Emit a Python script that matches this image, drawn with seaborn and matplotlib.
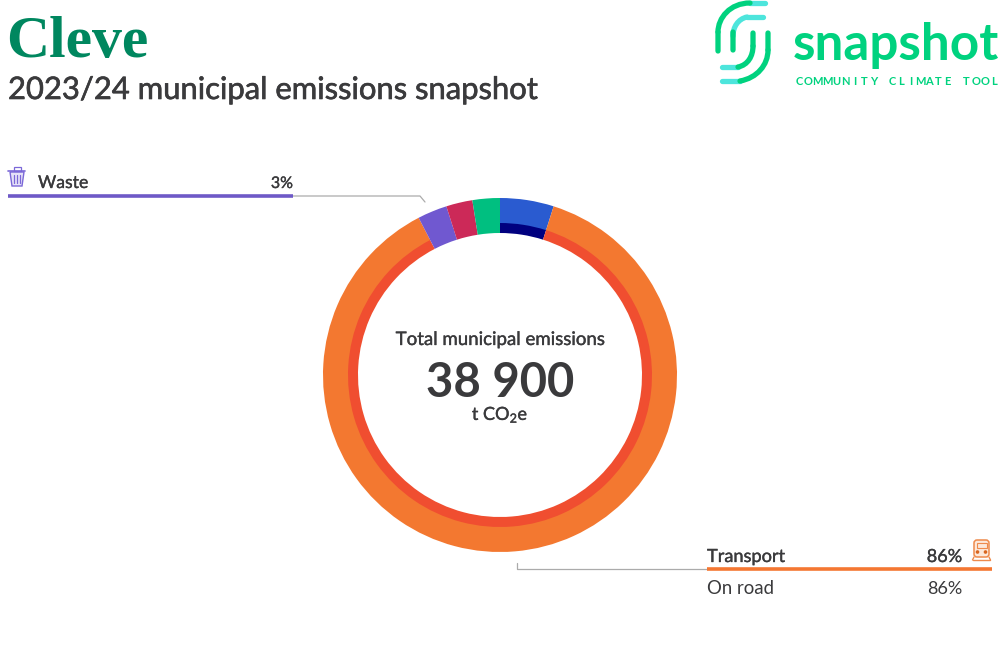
import matplotlib
matplotlib.use('Agg')
import matplotlib.pyplot as plt
import matplotlib.patheffects as pe
import seaborn as sns
from matplotlib.path import Path
from matplotlib.patches import PathPatch, Rectangle, FancyBboxPatch, Circle

# shares of total emissions, clockwise from 12 o'clock
sectors = ['Energy', 'Transport', 'Waste', 'Agriculture', 'Land']
sector_share = [4.9, 87.5, 2.7, 2.4, 2.5]
sector_colors = ['#2A5BD0', '#F37830', '#7058D0', '#CC2958', '#00BF80']
sub_share = [4.9, 87.5, 2.7, 2.4, 2.5]
sub_colors = ['#00007F', '#F04E30', '#7058D0', '#CC2958', '#00BF80']

title = 'Cleve'
subtitle = '2023/24 municipal emissions snapshot'
total_label = 'Total municipal emissions'
total_value = '38 900'
total_unit = 't CO$_2$e'
logo_name = 'snapshot'
logo_tag = 'COMMUNITY CLIMATE TOOL'

DARK = '#3A3A3C'
GREY = '#ABABAB'
LOGO_GREEN = '#00D27F'
LOGO_TEAL = '#4DE5DC'

sns.set_theme(style='white')
plt.rcParams['font.family'] = ['Lato', 'DejaVu Sans']
plt.rcParams['mathtext.default'] = 'regular'

fig = plt.figure(figsize=(10, 6.7), dpi=100)
ax = fig.add_axes([0, 0, 1, 1])

# y axis runs downward, so counterclock here reads clockwise on screen
# inner ring first and 1px wider, the outer ring covers the overlap so no seam shows
ax.pie(sub_share, colors=sns.color_palette(sub_colors), center=(500, 375), radius=153,
       startangle=-90, wedgeprops={'width': 11, 'linewidth': 0})
ax.pie(sector_share, colors=sns.color_palette(sector_colors), center=(500, 375), radius=177,
       startangle=-90, wedgeprops={'width': 25, 'linewidth': 0})
ax.set_xlim(0, 1000)
ax.set_ylim(670, 0)
ax.set_aspect('equal')
ax.axis('off')


def medium(width=0.25):
    # Lato has no medium cut here, thicken the regular one a little
    return [pe.withStroke(linewidth=width, foreground=DARK)]


ax.text(6, 57, title, family='Liberation Serif', weight='bold', fontsize=43, color='#00875F', va='baseline')
ax.text(8, 99, subtitle, fontsize=22.3, color=DARK, va='baseline', path_effects=medium(0.45))

ax.text(500, 345, total_label, ha='center', fontsize=13.45, color=DARK, path_effects=medium())
ax.text(500, 397, total_value, ha='center', fontsize=34, weight='bold', color=DARK)
ax.text(500, 420, total_unit, ha='center', fontsize=13, color=DARK, path_effects=medium())

# waste label
ax.plot([293, 420, 425], [196, 196, 202], color=GREY, lw=0.9)
ax.plot([8, 293], [196, 196], color='#6E59C7', lw=2.6, solid_capstyle='butt')
ax.text(38, 188, 'Waste', fontsize=12.7, color=DARK, path_effects=medium())
ax.text(293, 188, '3%', ha='right', fontsize=11.5, color=DARK, path_effects=medium())

# transport label
ax.plot([707, 517, 517], [569, 569, 563], color=GREY, lw=0.9)
ax.plot([707, 992], [569, 569], color='#F47732', lw=2.6, solid_capstyle='butt')
ax.text(707, 562, 'Transport', fontsize=13.1, color=DARK, path_effects=medium())
ax.text(962, 562, '86%', ha='right', fontsize=13, color=DARK, path_effects=medium())
ax.text(707, 594, 'On road', fontsize=13.4, color=DARK)
ax.text(962, 594, '86%', ha='right', fontsize=13, color=DARK)

# bin icon
bin_col = '#7B68D8'
ax.add_patch(PathPatch(Path([(10, 172), (12, 186), (22, 186), (24, 172), (10, 172)]),
                       facecolor='#E6E2F8', edgecolor=bin_col, lw=1))
ax.plot([8, 25], [171, 171], color=bin_col, lw=1.2)
ax.add_patch(Rectangle((13.5, 166.5), 7, 4, fill=False, edgecolor=bin_col, lw=0.9))
for x in (14, 17, 20):
    ax.plot([x, x], [175, 183], color=bin_col, lw=0.9)

# train icon
train_col = '#EE8A4C'
ax.add_patch(FancyBboxPatch((974, 540), 15, 17, boxstyle='round,pad=0,rounding_size=3',
                            facecolor='#FCE8DA', edgecolor=train_col, lw=1.1))
ax.add_patch(Rectangle((976.5, 543), 10, 5, fill=False, edgecolor=train_col, lw=0.8))
ax.add_patch(Circle((977.5, 552), 1.1, color='#D9661F'))
ax.add_patch(Circle((985.5, 552), 1.1, color='#D9661F'))
ax.plot([974, 972.5], [557, 560], color=train_col, lw=1)
ax.plot([989, 990.5], [557, 560], color=train_col, lw=1)
ax.plot([973, 990], [560, 560], color=train_col, lw=1)


def logo_curve(points, color):
    codes = [Path.MOVETO] + [Path.LINETO if len(points) == 2 else Path.CURVE4] * (len(points) - 1)
    ax.add_patch(PathPatch(Path(points, codes), fill=False, edgecolor=color, lw=3.8, capstyle='round'))


# logo mark
logo_curve([(765, 3), (750, 3)], LOGO_TEAL)
logo_curve([(750, 3), (730, 3), (718, 18), (718, 32)], LOGO_GREEN)
logo_curve([(718, 32), (718, 38), (718, 45), (718, 51)], LOGO_GREEN)
logo_curve([(763, 17), (747, 17)], LOGO_TEAL)
logo_curve([(747, 17), (738, 19), (733, 27), (733, 36)], LOGO_TEAL)
logo_curve([(733, 32), (733, 36), (733, 44), (733, 50)], LOGO_GREEN)
logo_curve([(722, 67), (738, 67)], LOGO_TEAL)
logo_curve([(738, 67), (748, 65), (753, 56), (753, 46)], LOGO_GREEN)
logo_curve([(753, 46), (753, 42), (753, 38), (753, 33)], LOGO_GREEN)
logo_curve([(722, 81), (740, 81)], LOGO_TEAL)
logo_curve([(740, 81), (757, 78), (768, 65), (768, 50)], LOGO_GREEN)
logo_curve([(768, 50), (768, 45), (768, 39), (768, 33)], LOGO_GREEN)

ax.text(793, 60, logo_name, fontsize=36.9, weight='bold', color=LOGO_GREEN)
for i, ch in enumerate(logo_tag):
    ax.text(799 + i * 9.3, 85, ch, ha='center', fontsize=8, weight='bold', color=LOGO_GREEN)

plt.savefig('out.png', dpi=100)
